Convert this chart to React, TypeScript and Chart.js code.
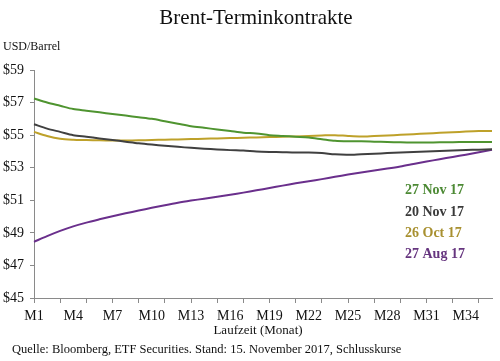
import React, { useEffect, useRef } from "react";
import { Chart, registerables } from "chart.js";

Chart.register(...registerables);

const months: string[] = Array.from({ length: 36 }, (_, i) => `M${i + 1}`);

const nov27: number[] = [
  57.25, 57.0, 56.8, 56.6, 56.5, 56.4, 56.3, 56.2, 56.1, 56.0, 55.85, 55.7,
  55.55, 55.45, 55.35, 55.25, 55.15, 55.1, 55.0, 54.95, 54.9, 54.85, 54.75, 54.65,
  54.62, 54.62, 54.6, 54.58, 54.56, 54.55, 54.55, 54.56, 54.57, 54.58, 54.58, 54.58,
];
const nov20: number[] = [
  55.67, 55.4, 55.2, 55.0, 54.9, 54.8, 54.7, 54.6, 54.5, 54.42, 54.35, 54.28,
  54.22, 54.17, 54.12, 54.08, 54.05, 54.0, 53.97, 53.95, 53.93, 53.93, 53.9, 53.82,
  53.8, 53.83, 53.86, 53.9, 53.93, 53.97, 54.0, 54.03, 54.06, 54.09, 54.11, 54.13,
];
const oct26: number[] = [
  55.2, 54.95, 54.78, 54.72, 54.7, 54.68, 54.67, 54.67, 54.68, 54.7, 54.72, 54.74,
  54.76, 54.78, 54.8, 54.82, 54.84, 54.86, 54.88, 54.9, 54.92, 54.95, 54.98, 55.0,
  54.95, 54.92, 54.95, 54.98, 55.02, 55.06, 55.1, 55.14, 55.18, 55.22, 55.25, 55.26,
];
const aug27: number[] = [
  48.45, 48.8, 49.12, 49.4, 49.63, 49.83, 50.02, 50.2, 50.37, 50.54, 50.7, 50.85,
  50.98, 51.1, 51.22, 51.34, 51.47, 51.61, 51.75, 51.9, 52.04, 52.17, 52.3, 52.44,
  52.58, 52.71, 52.83, 52.95, 53.08, 53.23, 53.38, 53.52, 53.66, 53.8, 53.95, 54.1,
];

const seriesNames: string[] = ["27 Nov 17", "20 Nov 17", "26 Oct 17", "27 Aug 17"];
const lineColors: string[] = ["#4f9430", "#404040", "#bea12a", "#6a2f8c"];
const labelColors: string[] = ["#4d8a35", "#3a3a3a", "#a89030", "#66357f"];

const TITLE = "Brent-Terminkontrakte";
const Y_UNIT = "USD/Barrel";
const X_TITLE = "Laufzeit (Monat)";
const SOURCE = "Quelle: Bloomberg, ETF Securities. Stand: 15. November 2017, Schlusskurse";

const FONT = "'Liberation Serif', 'DejaVu Serif', serif";

const textPlugin = {
  id: "textPlugin",
  afterDraw(chart: any) {
    const ctx = chart.ctx;
    ctx.save();
    ctx.fillStyle = "#111";
    ctx.textBaseline = "middle";
    ctx.textAlign = "center";
    ctx.font = `21px ${FONT}`;
    ctx.fillText(TITLE, 256, 18);
    ctx.textAlign = "left";
    ctx.font = `12px ${FONT}`;
    ctx.fillText(Y_UNIT, 3, 47);
    ctx.textAlign = "center";
    ctx.font = `13px ${FONT}`;
    ctx.fillText(X_TITLE, 258, 331);
    ctx.textAlign = "left";
    ctx.font = `12.5px ${FONT}`;
    ctx.fillText(SOURCE, 12, 350);
    ctx.font = `bold 14px ${FONT}`;
    const ys = [190, 212, 233, 254];
    seriesNames.forEach((n, i) => {
      ctx.fillStyle = labelColors[i];
      ctx.fillText(n, 405, ys[i]);
    });
    ctx.restore();
  },
};

export default function App() {
  const ref = useRef<HTMLCanvasElement | null>(null);
  useEffect(() => {
    document.body.style.margin = "0";
    if (!ref.current) return;
    const data = [nov27, nov20, oct26, aug27];
    const chart = new Chart(ref.current, {
      type: "line",
      data: {
        labels: months,
        datasets: data.map((d, i) => ({
          label: seriesNames[i],
          data: d,
          borderColor: lineColors[i],
          backgroundColor: lineColors[i],
          borderWidth: 2,
          pointRadius: 0,
          tension: 0.3,
          fill: false,
        })),
      },
      options: {
        animation: false,
        responsive: false,
        maintainAspectRatio: false,
        layout: { padding: { top: 70, right: 8, left: 0, bottom: 0 } },
        plugins: {
          legend: { display: false },
          title: { display: false },
          tooltip: { enabled: false },
        },
        scales: {
          x: {
            type: "category",
            offset: false,
            afterFit: (s: any) => {
              s.height = 63;
            },
            border: { display: true, color: "#8a8a8a", width: 1 },
            grid: {
              drawOnChartArea: false,
              drawTicks: true,
              tickLength: 5,
              tickColor: (c: any) => (c.index % 2 === 0 ? "#8a8a8a" : "rgba(0,0,0,0)"),
            },
            ticks: {
              autoSkip: false,
              maxRotation: 0,
              padding: 5,
              color: "#111",
              font: { family: FONT, size: 14 },
              callback: (v: any, i: number) => (i % 3 === 0 ? months[i] : ""),
            },
          },
          y: {
            min: 45,
            max: 59,
            afterFit: (s: any) => {
              s.width = 34;
            },
            border: { display: true, color: "#8a8a8a", width: 1 },
            grid: {
              drawOnChartArea: false,
              drawTicks: true,
              tickLength: 4,
              tickColor: "#8a8a8a",
            },
            ticks: {
              stepSize: 2,
              padding: 6,
              color: "#111",
              font: { family: FONT, size: 14 },
              callback: (v: any) => `$${v}`,
            },
          },
        },
      },
      plugins: [textPlugin],
    });
    return () => chart.destroy();
  }, []);
  return (
    <div style={{ width: 500, height: 361, background: "#fff" }}>
      <canvas ref={ref} width={500} height={361} style={{ display: "block", width: 500, height: 361 }} />
    </div>
  );
}
